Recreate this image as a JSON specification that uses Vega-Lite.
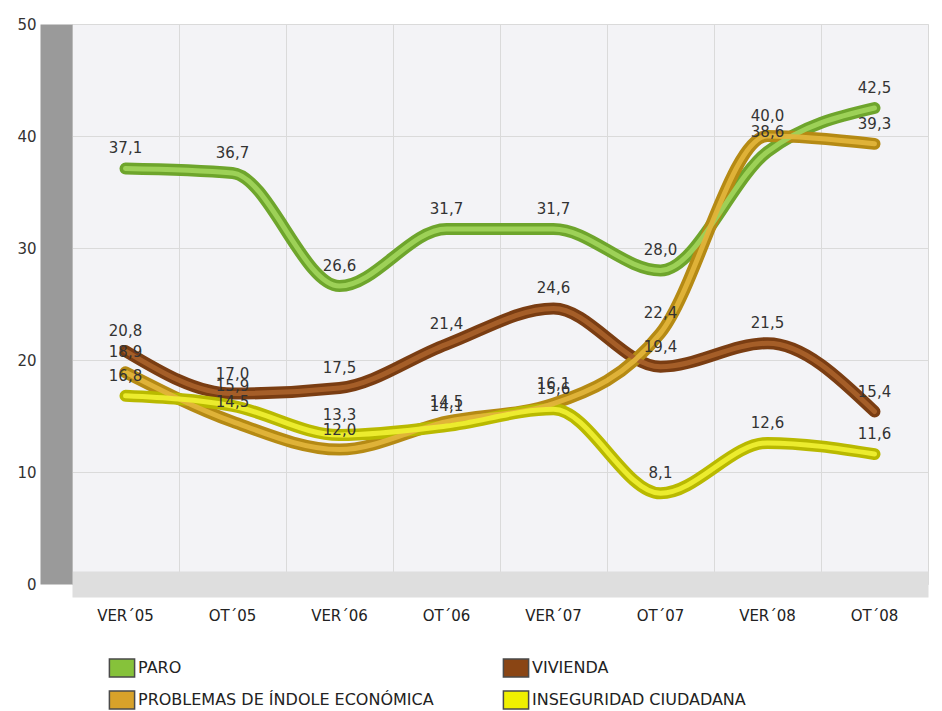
{
  "$schema": "https://vega.github.io/schema/vega-lite/v6.json",
  "autosize": "none",
  "width": 856,
  "height": 560,
  "padding": {"left": 72, "top": 24, "right": 14, "bottom": 127},
  "background": "#ffffff",
  "config": {
    "locale": {"number": {"decimal": ",", "thousands": ".", "grouping": [3], "currency": ["", " €"]}},
    "view": {"fill": "#f3f3f6", "stroke": "#d8d8d8"},
    "font": "DejaVu Sans"
  },
  "data": {"values": [
    {"periodo": "VER´05", "serie": "PARO", "valor": 37.1},
    {"periodo": "OT´05", "serie": "PARO", "valor": 36.7},
    {"periodo": "VER´06", "serie": "PARO", "valor": 26.6},
    {"periodo": "OT´06", "serie": "PARO", "valor": 31.7},
    {"periodo": "VER´07", "serie": "PARO", "valor": 31.7},
    {"periodo": "OT´07", "serie": "PARO", "valor": 28.0},
    {"periodo": "VER´08", "serie": "PARO", "valor": 38.6},
    {"periodo": "OT´08", "serie": "PARO", "valor": 42.5},
    {"periodo": "VER´05", "serie": "VIVIENDA", "valor": 20.8},
    {"periodo": "OT´05", "serie": "VIVIENDA", "valor": 17.0},
    {"periodo": "VER´06", "serie": "VIVIENDA", "valor": 17.5},
    {"periodo": "OT´06", "serie": "VIVIENDA", "valor": 21.4},
    {"periodo": "VER´07", "serie": "VIVIENDA", "valor": 24.6},
    {"periodo": "OT´07", "serie": "VIVIENDA", "valor": 19.4},
    {"periodo": "VER´08", "serie": "VIVIENDA", "valor": 21.5},
    {"periodo": "OT´08", "serie": "VIVIENDA", "valor": 15.4},
    {"periodo": "VER´05", "serie": "PROBLEMAS DE ÍNDOLE ECONÓMICA", "valor": 18.9},
    {"periodo": "OT´05", "serie": "PROBLEMAS DE ÍNDOLE ECONÓMICA", "valor": 14.5},
    {"periodo": "VER´06", "serie": "PROBLEMAS DE ÍNDOLE ECONÓMICA", "valor": 12.0},
    {"periodo": "OT´06", "serie": "PROBLEMAS DE ÍNDOLE ECONÓMICA", "valor": 14.5},
    {"periodo": "VER´07", "serie": "PROBLEMAS DE ÍNDOLE ECONÓMICA", "valor": 16.1},
    {"periodo": "OT´07", "serie": "PROBLEMAS DE ÍNDOLE ECONÓMICA", "valor": 22.4},
    {"periodo": "VER´08", "serie": "PROBLEMAS DE ÍNDOLE ECONÓMICA", "valor": 40.0},
    {"periodo": "OT´08", "serie": "PROBLEMAS DE ÍNDOLE ECONÓMICA", "valor": 39.3},
    {"periodo": "VER´05", "serie": "INSEGURIDAD CIUDADANA", "valor": 16.8},
    {"periodo": "OT´05", "serie": "INSEGURIDAD CIUDADANA", "valor": 15.9},
    {"periodo": "VER´06", "serie": "INSEGURIDAD CIUDADANA", "valor": 13.3},
    {"periodo": "OT´06", "serie": "INSEGURIDAD CIUDADANA", "valor": 14.1},
    {"periodo": "VER´07", "serie": "INSEGURIDAD CIUDADANA", "valor": 15.6},
    {"periodo": "OT´07", "serie": "INSEGURIDAD CIUDADANA", "valor": 8.1},
    {"periodo": "VER´08", "serie": "INSEGURIDAD CIUDADANA", "valor": 12.6},
    {"periodo": "OT´08", "serie": "INSEGURIDAD CIUDADANA", "valor": 11.6}
  ]},
  "layer": [
    {
      "mark": {"type": "line", "interpolate": "monotone", "strokeWidth": 12, "strokeCap": "round"},
      "encoding": {
        "x": {"field": "periodo", "type": "nominal", "sort": null,
          "scale": {"type": "band", "paddingInner": 0, "paddingOuter": 0},
          "axis": {"orient": "bottom", "title": null, "labels": false, "ticks": false,
            "grid": true, "bandPosition": 0, "gridColor": "#dadada", "gridWidth": 1,
            "domain": true, "domainColor": "#dedede", "domainWidth": 26}},
        "y": {"field": "valor", "type": "quantitative",
          "scale": {"domain": [0, 50], "nice": false},
          "axis": {"title": null, "values": [0, 10, 20, 30, 40, 50], "format": "d",
            "ticks": false, "grid": true, "gridColor": "#dadada",
            "domain": true, "domainColor": "#9a9a9a", "domainWidth": 32, "offset": 16,
            "labelPadding": 20, "labelFontSize": 15, "labelColor": "#333333", "labelFont": "DejaVu Sans"}},
        "color": {"field": "serie", "type": "nominal", "legend": null,
          "scale": {"domain": ["PARO", "VIVIENDA", "PROBLEMAS DE ÍNDOLE ECONÓMICA", "INSEGURIDAD CIUDADANA"],
            "range": ["#6ea52c", "#7a3d12", "#b58a14", "#b9b900"]}}
      }
    },
    {
      "mark": {"type": "line", "interpolate": "monotone", "strokeWidth": 5, "strokeCap": "round", "opacity": 0.95},
      "encoding": {
        "x": {"field": "periodo", "type": "nominal", "sort": null,
          "axis": {"orient": "bottom", "title": null, "grid": false, "domain": false, "ticks": false,
            "labelAngle": 0, "labelPadding": 24, "labelFontSize": 15, "labelColor": "#222222", "labelFont": "DejaVu Sans"}},
        "y": {"field": "valor", "type": "quantitative"},
        "color": {"field": "serie", "type": "nominal", "legend": null,
          "scale": {"domain": ["PARO", "VIVIENDA", "PROBLEMAS DE ÍNDOLE ECONÓMICA", "INSEGURIDAD CIUDADANA"],
            "range": ["#9fd35a", "#a8602a", "#e2b43a", "#eeee30"]}}
      }
    },
    {
      "mark": {"type": "point", "filled": true, "size": 0, "opacity": 0},
      "encoding": {
        "x": {"field": "periodo", "type": "nominal", "sort": null, "axis": null},
        "y": {"field": "valor", "type": "quantitative"},
        "color": {"field": "serie", "type": "nominal",
          "scale": {"domain": ["PARO", "VIVIENDA", "PROBLEMAS DE ÍNDOLE ECONÓMICA", "INSEGURIDAD CIUDADANA"],
            "range": ["#86c23a", "#8a4514", "#d8a22a", "#f0f000"]},
          "legend": {"title": null, "orient": "none", "legendX": 40, "legendY": 634, "columns": 2,
            "direction": "horizontal", "columnPadding": 66, "rowPadding": 8,
            "symbolType": "M-1.4,-1H1.4V1H-1.4Z", "symbolSize": 324,
            "symbolStrokeColor": "#4a4a4a", "symbolStrokeWidth": 1.5, "symbolOpacity": 1,
            "labelFontSize": 16, "labelColor": "#222222", "labelFont": "DejaVu Sans", "labelLimit": 400, "labelOffset": 6}}
      }
    },
    {
      "mark": {"type": "text", "dy": -20, "fontSize": 15, "color": "#333333", "font": "DejaVu Sans"},
      "encoding": {
        "x": {"field": "periodo", "type": "nominal", "sort": null, "axis": null},
        "y": {"field": "valor", "type": "quantitative"},
        "text": {"field": "valor", "type": "quantitative", "format": ".1f"}
      }
    }
  ],
  "resolve": {"scale": {"color": "independent"}, "axis": {"x": "independent"}}
}
